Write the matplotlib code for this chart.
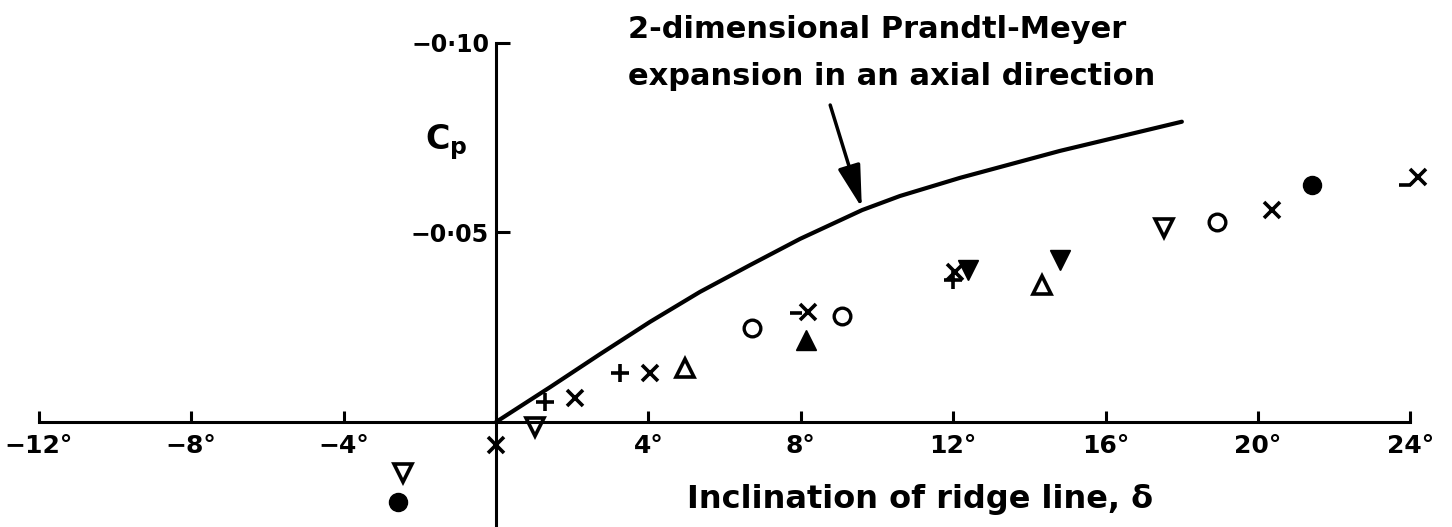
import matplotlib
matplotlib.use("Agg")
import matplotlib.pyplot as plt
import numpy as np

plt.rcParams["font.family"] = ["DejaVu Sans"]
plt.rcParams["font.weight"] = "bold"

# 2-D Prandtl-Meyer expansion curve
curve_delta = [0.0, 1.42, 2.73, 4.04, 5.35, 6.67, 7.98, 9.61, 10.60, 12.18, 14.80, 18.00]
curve_cp = [0.0, -0.0092, -0.0179, -0.0264, -0.0343, -0.0414, -0.0483, -0.0559,
            -0.0596, -0.0644, -0.0715, -0.0792]

# experimental points, one list pair per symbol
cross_delta = [0.0, 2.07, 4.04, 8.19, 12.05, 20.37, 24.2]
cross_cp = [0.0061, -0.0063, -0.0129, -0.0290, -0.0396, -0.0559, -0.0646]
plus_delta = [1.29, 3.25, 12.0]
plus_cp = [-0.0053, -0.0129, -0.0375]
dash_delta = [7.88, 23.86]
dash_cp = [-0.0288, -0.0625]
open_circle_delta = [6.72, 9.08, 18.92]
open_circle_cp = [-0.0248, -0.0280, -0.0528]
dot_delta = [-2.57, 21.42]
dot_cp = [0.0211, -0.0625]
open_down_delta = [-2.44, 1.02, 17.53]
open_down_cp = [0.0135, 0.0013, -0.0512]
filled_down_delta = [12.39, 14.8]
filled_down_cp = [-0.0401, -0.0427]
open_up_delta = [4.96, 14.33]
open_up_cp = [-0.0142, -0.0361]
filled_up_delta = [8.14]
filled_up_cp = [-0.0216]

x_ticks = [-12, -8, -4, 0, 4, 8, 12, 16, 20, 24]
x_tick_labels = ["\u221212\u00b0", "\u22128\u00b0", "\u22124\u00b0", "", "4\u00b0", "8\u00b0",
                 "12\u00b0", "16\u00b0", "20\u00b0", "24\u00b0"]
y_ticks = [-0.10, -0.05]
y_tick_labels = ["\u22120\u00b710", "\u22120\u00b705"]

fig = plt.figure(figsize=(14.52, 5.27), dpi=100)
ax = fig.add_axes([0, 0, 1, 1])
ax.set_xlim(-13.02, 25.09)
ax.set_ylim(0.0277, -0.1113)  # Cp negative upwards

# axes through the origin
for side in ["top", "right"]:
    ax.spines[side].set_visible(False)
ax.spines["left"].set_position(("data", 0))
ax.spines["bottom"].set_position(("data", 0))
ax.spines["left"].set_bounds(-0.10, 0.0277)
ax.spines["bottom"].set_bounds(-12, 24)
ax.spines["left"].set_linewidth(2.2)
ax.spines["bottom"].set_linewidth(2.2)

ax.set_xticks(x_ticks)
ax.set_xticklabels(x_tick_labels, fontsize=18, fontweight="bold")
ax.tick_params(axis="x", direction="in", length=8, width=2.2, pad=9)
ax.set_yticks(y_ticks)
ax.set_yticklabels(y_tick_labels, fontsize=17, fontweight="bold")
ax.tick_params(axis="y", direction="in", length=10, width=2.2, pad=5)

ax.plot(curve_delta, curve_cp, color="k", lw=3, solid_capstyle="round",
        solid_joinstyle="round")

mk = dict(linestyle="none", color="k")
ax.plot(cross_delta, cross_cp, marker="x", ms=11, mew=2.6, **mk)
ax.plot(plus_delta, plus_cp, marker="+", ms=13, mew=2.6, **mk)
ax.plot(dash_delta, dash_cp, marker="_", ms=9, mew=2.6, **mk)
ax.plot(open_circle_delta, open_circle_cp, marker="o", ms=12, mew=2.4, mfc="white", **mk)
ax.plot(dot_delta, dot_cp, marker="o", ms=13, mew=1, **mk)
ax.plot(open_down_delta, open_down_cp, marker="v", ms=13, mew=2.6, mfc="white", **mk)
ax.plot(filled_down_delta, filled_down_cp, marker="v", ms=15, mew=1, **mk)
ax.plot(open_up_delta, open_up_cp, marker="^", ms=13, mew=2.6, mfc="white", **mk)
ax.plot(filled_up_delta, filled_up_cp, marker="^", ms=15, mew=1, **mk)

ax.text(-1.86, -0.0718, r"$\mathbf{C_p}$", fontsize=24, ha="left", va="baseline")
ax.text(3.46, -0.1012, "2-dimensional Prandtl-Meyer", fontsize=22, ha="left", va="baseline")
ax.text(3.46, -0.0890, "expansion in an axial direction", fontsize=22, ha="left", va="baseline")
ax.annotate("", xy=(9.6, -0.0565), xytext=(8.77, -0.0836),
            arrowprops=dict(arrowstyle="-|>,head_length=1.3,head_width=0.35",
                            color="k", lw=2.5, mutation_scale=20, shrinkA=0, shrinkB=0))
ax.text(11.13, 0.0227, "Inclination of ridge line, \u03b4", fontsize=23,
        ha="center", va="baseline")

fig.savefig("out.png", dpi=100)
